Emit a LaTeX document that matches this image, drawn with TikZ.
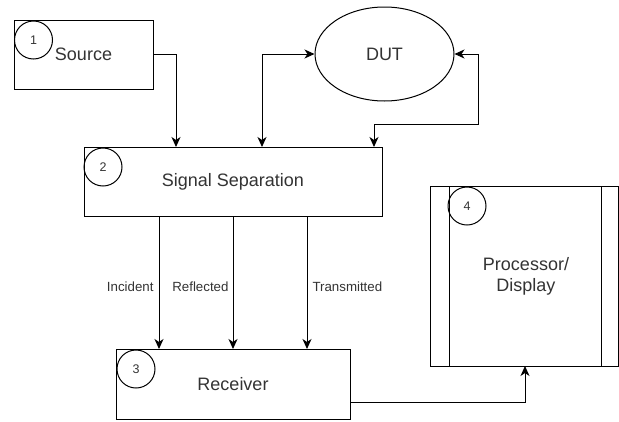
\documentclass[tikz,border=0pt]{standalone}
\usepackage{fontspec}
\setmainfont{Liberation Sans}
\usetikzlibrary{arrows.meta,shapes.geometric,calc}
\begin{document}
\begin{tikzpicture}[x=1pt,y=-1pt,
  line width=1pt,
  txt/.style={text=black!80, font=\fontsize{18}{21}\selectfont},
  blk/.style={draw, rectangle, inner sep=0pt, txt},
  num/.style={draw, circle, minimum size=38pt, inner sep=0pt, text=black!80, font=\fontsize{12.5}{14}\selectfont},
  lbl/.style={text=black!80, font=\fontsize{13.3}{15}\selectfont, inner sep=0pt},
  tip/.style={-{Stealth[length=10pt,width=9pt,inset=3pt]}},
  tips/.style={{Stealth[length=10pt,width=9pt,inset=3pt]}-{Stealth[length=10pt,width=9pt,inset=3pt]}}
]
\useasboundingbox (0,0) rectangle (619,421);

% blocks
\node[blk, minimum width=139pt, minimum height=69pt] (src) at (83.5,54.5) {Source};
\node[draw, ellipse, minimum width=139pt, minimum height=94pt, inner sep=0pt, txt] (dut) at (384.5,54) {DUT};
\node[blk, minimum width=298pt, minimum height=69pt] (ss) at (233,181.5) {Signal Separation};
\node[blk, minimum width=234pt, minimum height=70pt] (rx) at (233,384) {Receiver};
\node[blk, minimum width=188pt, minimum height=180pt, align=center] (proc) at (524,276) {\hspace*{4pt}Processor/\\\hspace*{4pt}Display};
\draw (449,186) -- (449,366);
\draw (601,186) -- (601,366);

% number circles
\node[num] (n1) at (33.5,40) {1};
\node[num] (n2) at (103,167) {2};
\node[num] (n3) at (136,369) {3};
\node[num] (n4) at (467,206) {4};

% connection points
\coordinate (ssA) at (176,147);
\coordinate (ssB) at (262,147);
\coordinate (ssC) at (374,147);
\coordinate (dutR) at (478,124);
\coordinate (rxE) at (350,402);
\coordinate (procS) at (525,366);

% connectors
\draw[tip] (src.east) -| (ssA);
\draw[tips] (ssB) |- (dut.west);
\draw[tips] (dut.east) -| (dutR) -| (ssC);
\draw[tip] (159,216) -- (159,349);
\draw[tip] (233,216) -- (233,349);
\draw[tip] (307,216) -- (307,349);
\draw[tip] (rxE) -| (procS);

% labels
\node[lbl, anchor=east] (li) at (154,287) {Incident};
\node[lbl, anchor=east] (lr) at (229,287) {Reflected};
\node[lbl, anchor=west] (lt) at (312,287) {Transmitted};
\end{tikzpicture}
\end{document}
